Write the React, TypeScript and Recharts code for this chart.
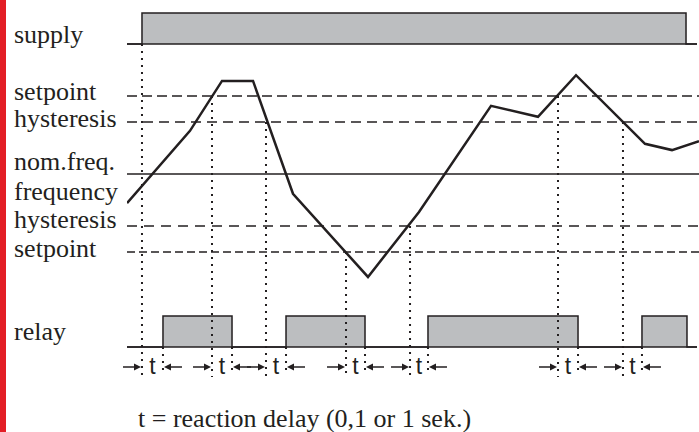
import React from 'react';
import { ComposedChart, Line, Area, XAxis, YAxis, ReferenceLine, ReferenceArea } from 'recharts';

// ---------- data (time in % of the shown interval, frequency in Hz) ----------
const supplyT = [0, 2.62, 97.73, 99.65];
const supplyV = [0, 1, 0, 0];

const relayT = [0, 6.29, 18.36, 27.8, 41.61, 52.62, 78.85, 90.03, 97.9, 99.65];
const relayV = [0, 1, 0, 1, 0, 1, 0, 1, 0, 0];

const freqT = [0, 11.01, 16.61, 22.03, 29.02, 42.13, 51.05, 63.64, 71.85, 78.5, 90.56, 95.28, 100];
const freqV = [49.44, 50.83, 51.79, 51.79, 49.62, 48.02, 49.27, 51.31, 51.1, 51.9, 50.58, 50.46, 50.63];

const NOM_FREQ = 50;
const levelValues = [51.5, 51, 49, 48.5];
const levelDash = ['10 5', '10 6', '10 7', '8 4'];

const freqTickValues = [51.5, 51, 50, 49.5, 49, 48.5];
const freqTickLabels = ['setpoint', 'hysteresis', 'nom.freq.', 'frequency', 'hysteresis', 'setpoint'];
const freqTickDy = [4, 5, -4, 0, 2, 5];

const signalLabels = ['supply', 'relay'];

const supplyOnT = 2.62;
const eventT = [14.86, 24.3, 38.29, 49.48, 75.35, 86.71];
const eventLevel = [51.5, 51, 48.5, 49, 51.5, 51];

const relayEdgeT = [6.29, 18.36, 27.8, 41.61, 52.62, 78.85, 90.03];
const delayStart = [2.62, 14.86, 24.3, 38.29, 49.48, 75.35, 86.71];
const delayEnd = [6.29, 18.36, 27.8, 41.61, 52.62, 78.85, 90.03];

const caption = 't = reaction delay (0,1 or 1 sek.)';

// ---------- layout ----------
const W = 699;
const H = 432;
const LEFT = 127;
const INK = '#231f20';
const GRAY = '#bcbec0';
const RED = '#e31e26';
const SERIF = "'Liberation Serif', 'Times New Roman', serif";
const SANS = "'Liberation Sans', Arial, sans-serif";

function axis(v0: number, px0: number, v1: number, px1: number) {
  const k = (v1 - v0) / (px1 - px0);
  const at = (px: number) => v0 + (px - px0) * k;
  return { domain: [at(H), at(0)] as [number, number], at };
}
const fAx = axis(50, 174, 51, 122);
const sAx = axis(0, 44, 1, 13);
const rAx = axis(0, 347, 1, 316);

const supplyData = supplyT.map((t, i) => ({ t, v: supplyV[i] }));
const relayData = relayT.map((t, i) => ({ t, v: relayV[i] }));
const freqData = freqT.map((t, i) => ({ t, f: freqV[i] }));

const Arrow = ({ from, to, y }: { from: number; to: number; y: number }) => {
  const dir = to > from ? 1 : -1;
  const hx = to - dir * 7;
  return (
    <g>
      <line x1={from} y1={y} x2={hx} y2={y} stroke={INK} strokeWidth={1.5} />
      <polygon points={`${to},${y} ${hx},${y - 3.5} ${hx},${y + 3.5}`} fill={INK} />
    </g>
  );
};

const DelayMark = (props: any) => {
  const vb = props.viewBox || {};
  const { x, y, width, height } = vb;
  if (x == null) return null;
  const cy = y + height / 2;
  return (
    <g>
      <Arrow from={x - 19} to={x - 1} y={cy} />
      <Arrow from={x + width + 19} to={x + width + 1} y={cy} />
      <text x={x + width / 2} y={y + height - 3} textAnchor="middle" fontFamily={SANS} fontSize={23} fill={INK}>
        t
      </text>
    </g>
  );
};

const SideLabel = ({ text, dy, viewBox }: any) => {
  if (!viewBox) return null;
  return (
    <text x={14} y={viewBox.y + dy} textAnchor="start" fontFamily={SERIF} fontSize={26} fill={INK}>
      {text}
    </text>
  );
};

const FreqTick = (p: any) => {
  const i = freqTickValues.indexOf(p.payload?.value);
  if (i < 0) return <g />;
  return (
    <text x={14} y={p.y + freqTickDy[i]} textAnchor="start" fontFamily={SERIF} fontSize={26} fill={INK}>
      {freqTickLabels[i]}
    </text>
  );
};

export default function App() {
  return (
    <div style={{ position: 'absolute', left: 0, top: 0, width: W, height: H, background: '#fff' }}>
      <ComposedChart width={W} height={H} margin={{ top: 0, right: 0, bottom: 0, left: 0 }}>
        <XAxis type="number" dataKey="t" domain={[0, 100]} allowDataOverflow hide />
        <YAxis
          yAxisId="f"
          type="number"
          domain={fAx.domain}
          allowDataOverflow
          width={LEFT}
          ticks={freqTickValues}
          interval={0}
          axisLine={false}
          tickLine={false}
          tick={(p: any) => <FreqTick {...p} />}
        />
        <YAxis yAxisId="s" type="number" domain={sAx.domain} allowDataOverflow hide />
        <YAxis yAxisId="r" type="number" domain={rAx.domain} allowDataOverflow hide />

        <Area yAxisId="s" data={supplyData} dataKey="v" type="stepAfter" baseValue={0} fill={GRAY} fillOpacity={1}
          stroke={INK} strokeWidth={1.5} isAnimationActive={false} dot={false} activeDot={false} />
        <Area yAxisId="r" data={relayData} dataKey="v" type="stepAfter" baseValue={0} fill={GRAY} fillOpacity={1}
          stroke={INK} strokeWidth={1.5} isAnimationActive={false} dot={false} activeDot={false} />
        <ReferenceLine yAxisId="s" segment={[{ x: 0, y: 0 }, { x: 99.65, y: 0 }]} stroke={INK} strokeWidth={1.5}
          label={<SideLabel text={signalLabels[0]} dy={-1} />} />
        <ReferenceLine yAxisId="r" segment={[{ x: 0, y: 0 }, { x: 99.65, y: 0 }]} stroke={INK} strokeWidth={1.5}
          label={<SideLabel text={signalLabels[1]} dy={-7} />} />

        <ReferenceLine yAxisId="f" y={NOM_FREQ} stroke={INK} strokeWidth={1.5} />
        {levelValues.map((v, i) => (
          <ReferenceLine key={'lv' + i} yAxisId="f" y={v} stroke={INK} strokeWidth={1.5} strokeDasharray={levelDash[i]} />
        ))}

        <ReferenceLine yAxisId="s" segment={[{ x: supplyOnT, y: 0 }, { x: supplyOnT, y: sAx.at(375) }]}
          stroke={INK} strokeWidth={2} strokeDasharray="2 5" ifOverflow="visible" />
        {eventT.map((t, i) => (
          <ReferenceLine key={'ev' + i} yAxisId="f" segment={[{ x: t, y: eventLevel[i] }, { x: t, y: fAx.at(377) }]}
            stroke={INK} strokeWidth={2} strokeDasharray="2 5" ifOverflow="visible" />
        ))}
        {relayEdgeT.map((t, i) => (
          <ReferenceLine key={'re' + i} yAxisId="r" segment={[{ x: t, y: 0 }, { x: t, y: rAx.at(373) }]}
            stroke={INK} strokeWidth={2} strokeDasharray="2 5" ifOverflow="visible" />
        ))}
        {delayStart.map((t, i) => (
          <ReferenceArea key={'dl' + i} yAxisId="r" x1={t} x2={delayEnd[i]} y1={rAx.at(377)} y2={rAx.at(357)}
            fill="none" fillOpacity={0} stroke="none" ifOverflow="visible" label={<DelayMark />} />
        ))}

        <Line yAxisId="f" data={freqData} dataKey="f" type="linear" stroke={INK} strokeWidth={2.5}
          dot={false} activeDot={false} isAnimationActive={false} />
      </ComposedChart>
      <svg width={W} height={H} style={{ position: 'absolute', left: 0, top: 0, pointerEvents: 'none' }}>
        <rect x={0} y={0} width={6} height={H} fill={RED} />
        <text x={138} y={427} fontFamily={SERIF} fontSize={26} fill={INK}>
          {caption}
        </text>
      </svg>
    </div>
  );
}
